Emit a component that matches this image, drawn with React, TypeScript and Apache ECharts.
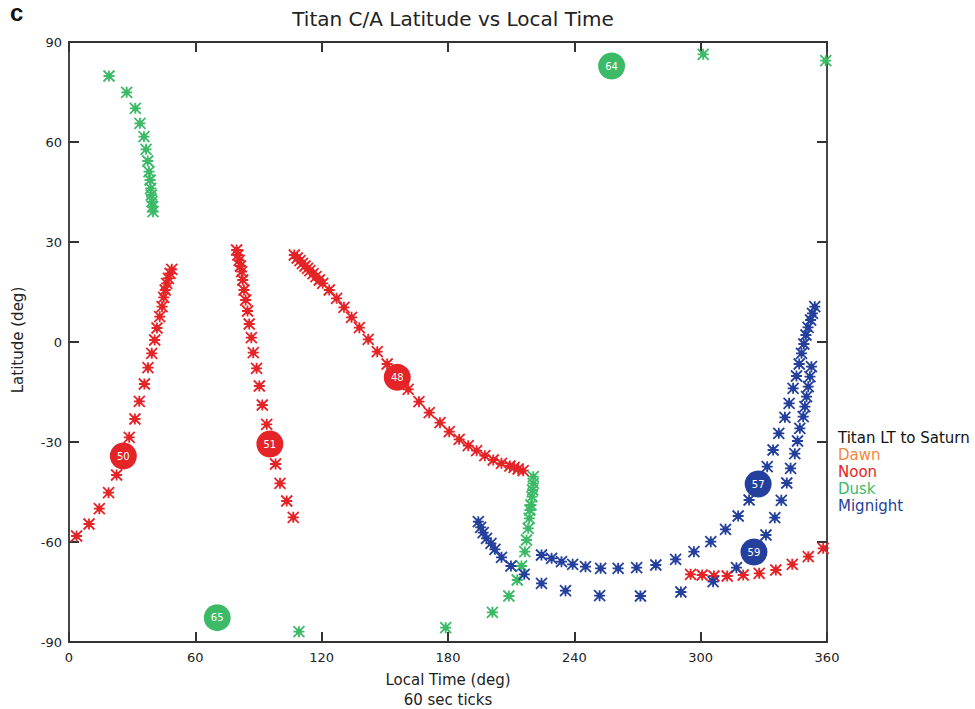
import React, { useEffect, useRef } from "react";
import * as echarts from "echarts";

// Tick labels
const xTicks = [0, 60, 120, 180, 240, 300, 360];
const yTicks = [-90, -60, -30, 0, 30, 60, 90];

// Noon (red) tracks: [local time deg, latitude deg]
const noonT50: number[][] = [
  [3.6, -58.2], [9.5, -54.6], [14.4, -50.0], [18.8, -45.2], [22.6, -39.9], [28.6, -28.6],
  [31.3, -23.1], [33.4, -17.8], [35.8, -12.6], [37.5, -7.7], [39.3, -3.4], [40.7, 0.6],
  [41.8, 4.2], [43.1, 7.6], [44.2, 10.6], [45.0, 13.4], [45.7, 15.6], [46.4, 17.6],
  [47.2, 19.1], [48.0, 20.6], [48.8, 21.8],
];
const noonT51: number[][] = [
  [79.6, 27.6], [80.2, 26.1], [80.8, 24.5], [81.4, 22.8], [82.0, 21.1],
  [82.5, 18.6], [83.1, 15.6], [83.9, 12.6], [84.8, 9.3], [85.6, 5.4], [86.6, 1.3],
  [87.5, -3.2], [89.1, -7.9], [90.4, -13.2], [91.8, -18.9], [93.9, -24.7], [98.1, -36.6],
  [100.2, -42.4], [103.4, -47.7], [106.5, -52.6],
];
const noonT48: number[][] = [
  [107.0, 26.1], [108.4, 25.2], [109.7, 24.4], [110.9, 23.6], [112.1, 22.8], [113.3, 22.1],
  [114.4, 21.4], [115.9, 20.5], [117.3, 19.6], [118.9, 18.6], [120.5, 17.6], [123.6, 15.6],
  [127.1, 13.1], [130.6, 10.4], [134.2, 7.4], [137.9, 4.3], [142.1, 0.8], [146.4, -2.9],
  [151.1, -6.6], [161.1, -14.2], [166.2, -17.9], [171.1, -21.2], [176.2, -24.2],
  [180.6, -26.9], [185.3, -29.2], [189.6, -31.1], [193.6, -32.6], [197.5, -34.1],
  [201.5, -35.4], [205.4, -36.4], [209.4, -37.2], [211.4, -37.6], [213.3, -38.1], [215.7, -38.6],
];
const noonT59: number[][] = [
  [295.2, -69.7], [300.7, -69.9], [306.3, -70.2], [312.6, -70.2], [320.2, -69.9],
  [327.8, -69.4], [335.7, -68.4], [343.5, -66.7], [351.1, -64.4], [358.2, -61.9],
];

// Dusk (green) tracks
const duskNorth: number[][] = [
  [19.0, 79.8], [27.4, 74.9], [31.5, 70.1], [33.7, 65.6], [35.6, 61.6], [36.6, 57.8],
  [37.4, 54.3], [38.0, 51.1], [38.5, 48.6], [38.8, 46.1], [39.1, 44.1], [39.4, 42.1],
  [39.7, 40.6], [39.9, 39.1],
];
const duskSouth: number[][] = [
  [109.2, -86.9], [178.9, -85.7], [201.1, -81.1], [208.9, -76.2], [212.9, -71.4],
  [214.9, -67.2], [216.5, -62.9], [217.3, -59.4], [218.1, -55.9], [218.6, -52.9],
  [218.9, -50.4], [219.4, -48.9], [219.9, -46.4], [220.2, -44.4], [220.5, -42.4], [220.5, -40.4],
];
const duskPolar: number[][] = [
  [301.2, 86.3], [359.4, 84.4],
];

// Midnight (blue) tracks
const midnightA: number[][] = [
  [194.4, -53.9], [195.5, -55.6], [196.7, -57.2], [198.3, -58.9], [200.4, -60.4],
  [202.3, -62.2], [205.4, -64.6], [209.9, -67.2], [216.2, -69.7], [224.4, -72.4],
  [235.8, -74.6], [252.0, -76.1], [271.4, -76.2], [290.6, -75.0], [305.9, -71.9],
  [317.0, -67.7], [331.0, -57.9], [335.2, -52.7], [338.3, -47.5], [340.9, -42.3],
  [342.7, -37.9], [344.7, -33.5], [346.0, -29.7], [347.1, -25.9], [348.7, -22.4],
  [349.5, -19.4], [350.3, -16.4], [351.1, -13.4], [351.9, -10.4], [352.6, -7.4],
];
const midnightB: number[][] = [
  [224.4, -63.9], [229.2, -64.9], [233.9, -65.9], [239.2, -66.7], [245.3, -67.4],
  [252.5, -67.9], [260.8, -67.9], [269.6, -67.7], [278.7, -66.9], [288.1, -65.2],
  [296.8, -62.9], [304.8, -59.9], [311.8, -56.2], [317.8, -52.2], [323.0, -47.4],
  [331.6, -37.4], [334.4, -32.4], [337.1, -27.4], [340.0, -22.6], [342.0, -18.4],
  [343.9, -13.9], [345.5, -10.2], [346.8, -6.6], [347.9, -3.4], [349.0, -0.6],
  [350.0, 2.1], [351.0, 4.4], [352.2, 6.6], [353.1, 8.6], [354.2, 10.6],
];

// Flyby labels: [local time, latitude, name]
const noonFlybys: [number, number, string][] = [
  [25.8, -34.2, "50"], [95.4, -30.6, "51"], [155.9, -10.6, "48"],
];
const duskFlybys: [number, number, string][] = [
  [257.7, 82.8, "64"], [70.4, -82.7, "65"],
];
const midnightFlybys: [number, number, string][] = [
  [327.3, -42.6, "57"], [325.3, -63.0, "59"],
];

const legendLabels = ["Titan LT to Saturn", "Dawn", "Noon", "Dusk", "Mignight"];

const RED = "#e52428";
const GREEN = "#3dba68";
const BLUE = "#24409c";
const ORANGE = "#f4883a";
const legendColors = ["#111111", ORANGE, RED, GREEN, BLUE];

const FONT = "DejaVu Sans";
const STAR =
  "path://M3.2,3.2L6.8,3.2L6.8,6.8L3.2,6.8Z M0,0L10,10 M10,0L0,10 M0,5L10,5 M5,0L5,10";

export default function App() {
  const ref = useRef<HTMLDivElement>(null);
  useEffect(() => {
    document.body.style.margin = "0";
    const chart = echarts.init(ref.current!, null, { renderer: "svg" });
    const starSeries = (name: string, data: number[][], color: string) => ({
      name,
      type: "scatter",
      data,
      symbol: STAR,
      symbolSize: 11,
      itemStyle: { color, borderColor: color, borderWidth: 1.8, opacity: 1 },
      z: 2,
    });
    const flybySeries = (name: string, data: [number, number, string][], color: string) => ({
      name,
      type: "scatter",
      data: data.map((d) => ({ value: [d[0], d[1]], name: d[2] })),
      symbol: "circle",
      symbolSize: 27,
      itemStyle: { color, opacity: 1 },
      label: {
        show: true,
        position: "inside",
        formatter: "{b}",
        color: "#ffffff",
        fontSize: 10,
        fontFamily: FONT,
      },
      z: 5,
    });
    const axisLabel = { color: "#222", fontSize: 13, fontFamily: FONT };
    const mkLine = () => ({ color: "#333", width: 1.8 });
    const mkTick = () => ({ show: true, inside: true, length: 10, lineStyle: { color: "#333", width: 2 } });
    chart.setOption({
      animation: false,
      backgroundColor: "#ffffff",
      grid: {
        left: 69,
        right: 148,
        top: 42,
        bottom: 67,
        show: false,
      },
      title: {
        text: "Titan C/A Latitude vs Local Time",
        left: 448,
        top: 4,
        textAlign: "center",
        textStyle: { fontSize: 20, fontWeight: "normal", color: "#222", fontFamily: FONT },
      },
      xAxis: [
        {
          type: "value",
          min: xTicks[0],
          max: xTicks[xTicks.length - 1],
          interval: 60,
          position: "bottom",
          axisLine: { show: true, onZero: false, lineStyle: mkLine() },
          axisTick: mkTick(),
          axisLabel: { ...axisLabel, margin: 9 },
          splitLine: { show: false },
        },
        {
          type: "value",
          min: xTicks[0],
          max: xTicks[xTicks.length - 1],
          interval: 60,
          position: "top",
          axisLine: { show: true, onZero: false, lineStyle: mkLine() },
          axisTick: mkTick(),
          axisLabel: { show: false },
          splitLine: { show: false },
        },
      ],
      yAxis: [
        {
          type: "value",
          min: yTicks[0],
          max: yTicks[yTicks.length - 1],
          interval: 30,
          position: "left",
          axisLine: { show: true, onZero: false, lineStyle: mkLine() },
          axisTick: mkTick(),
          axisLabel: { ...axisLabel, margin: 7 },
          splitLine: { show: false },
        },
        {
          type: "value",
          min: yTicks[0],
          max: yTicks[yTicks.length - 1],
          interval: 30,
          position: "right",
          axisLine: { show: true, onZero: false, lineStyle: mkLine() },
          axisTick: mkTick(),
          axisLabel: { show: false },
          splitLine: { show: false },
        },
      ],
      series: [
        starSeries("Noon", noonT50, RED),
        starSeries("Noon", noonT51, RED),
        starSeries("Noon", noonT48, RED),
        starSeries("Noon", noonT59, RED),
        starSeries("Dusk", duskNorth, GREEN),
        starSeries("Dusk", duskSouth, GREEN),
        starSeries("Dusk", duskPolar, GREEN),
        starSeries("Mignight", midnightA, BLUE),
        starSeries("Mignight", midnightB, BLUE),
        flybySeries("NoonFlyby", noonFlybys, RED),
        flybySeries("DuskFlyby", duskFlybys, GREEN),
        flybySeries("MidnightFlyby", midnightFlybys, BLUE),
      ],
      graphic: [
        {
          type: "text",
          left: 10,
          top: 0,
          style: { text: "c", fontSize: 24, fontWeight: "bold", fill: "#111", fontFamily: "Liberation Sans" },
        },
        {
          type: "text",
          x: 448,
          y: 680,
          style: {
            text: "Local Time (deg)",
            fontSize: 15,
            fill: "#222",
            fontFamily: FONT,
            align: "center",
            verticalAlign: "middle",
          },
        },
        {
          type: "text",
          x: 448,
          y: 700,
          style: {
            text: "60 sec ticks",
            fontSize: 15,
            fill: "#222",
            fontFamily: FONT,
            align: "center",
            verticalAlign: "middle",
          },
        },
        {
          type: "text",
          x: 18,
          y: 340,
          rotation: Math.PI / 2,
          style: {
            text: "Latitude (deg)",
            fontSize: 15,
            fill: "#222",
            fontFamily: FONT,
            align: "center",
            verticalAlign: "middle",
          },
        },
        ...legendLabels.map((t, i) => ({
          type: "text",
          x: 838,
          y: 438 + i * 17,
          style: {
            text: t,
            fontSize: 15,
            fill: legendColors[i],
            fontFamily: FONT,
            align: "left",
            verticalAlign: "middle",
          },
        })),
      ],
    });
    return () => chart.dispose();
  }, []);
  return <div ref={ref} style={{ width: 975, height: 709 }} />;
}
